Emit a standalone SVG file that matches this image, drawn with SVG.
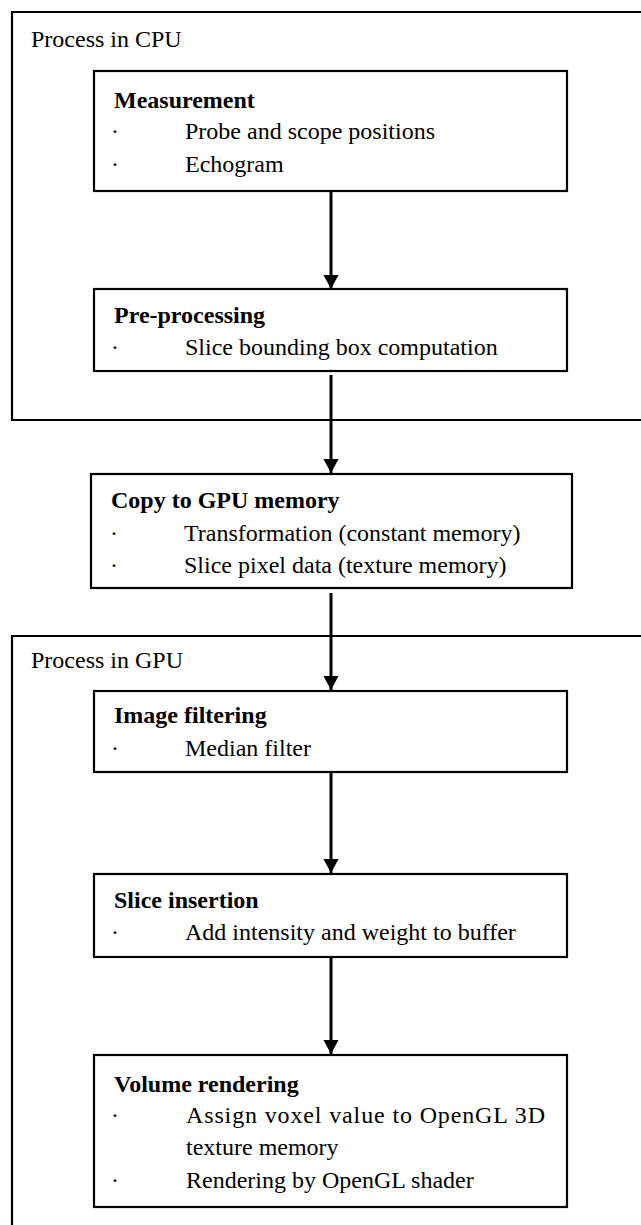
<svg xmlns="http://www.w3.org/2000/svg" width="641" height="1225" viewBox="0 0 641 1225">
<style>
  .frame { fill: none; stroke: #000; stroke-width: 2.2; }
  .box { fill: #fff; stroke: #000; stroke-width: 2.2; }
  .t { font-family: "Liberation Serif", "Times New Roman", serif; font-size: 24px; fill: #000; }
  .h { font-family: "Liberation Serif", "Times New Roman", serif; font-size: 24px; font-weight: bold; fill: #000; }
  .conn { stroke: #000; stroke-width: 3; fill: none; marker-end: url(#arrow); }
</style>
<defs>
  <marker id="arrow" markerUnits="userSpaceOnUse" markerWidth="16" markerHeight="16" viewBox="0 0 16 16" refX="14" refY="8" orient="auto">
    <path d="M0,0.5 L14,8 L0,15.5 Z" fill="#000"/>
  </marker>
</defs>
<rect width="641" height="1225" fill="#fff"/>

<g id="cpu-group">
  <path class="frame" d="M660,12 H12 V420 H660"/>
  <text class="t" x="31" y="47">Process in CPU</text>
</g>

<g id="gpu-group">
  <path class="frame" d="M660,636 H12 V1240"/>
  <text class="t" x="31" y="668">Process in GPU</text>
</g>

<g id="connectors">
  <line class="conn" x1="331" y1="191" x2="331" y2="289"/>
  <line class="conn" x1="331" y1="375" x2="331" y2="473"/>
  <line class="conn" x1="331" y1="593" x2="331" y2="690"/>
  <line class="conn" x1="331" y1="772" x2="331" y2="873"/>
  <line class="conn" x1="331" y1="957" x2="331" y2="1054"/>
</g>

<g id="measurement">
  <rect class="box" x="94" y="71" width="473" height="120"/>
  <text class="h" x="114" y="108">Measurement</text>
  <text class="t" x="111" y="139">·</text>
  <text class="t" x="185" y="139">Probe and scope positions</text>
  <text class="t" x="111" y="172">·</text>
  <text class="t" x="185" y="172">Echogram</text>
</g>

<g id="preprocessing">
  <rect class="box" x="94" y="289" width="473" height="82"/>
  <text class="h" x="114" y="323">Pre-processing</text>
  <text class="t" x="111" y="355">·</text>
  <text class="t" x="185" y="355">Slice bounding box computation</text>
</g>

<g id="copy-to-gpu">
  <rect class="box" x="91" y="474" width="481" height="114"/>
  <text class="h" x="111" y="508">Copy to GPU memory</text>
  <text class="t" x="110" y="541">·</text>
  <text class="t" x="184" y="541">Transformation (constant memory)</text>
  <text class="t" x="110" y="573">·</text>
  <text class="t" x="184" y="573">Slice pixel data (texture memory)</text>
</g>

<g id="image-filtering">
  <rect class="box" x="94" y="691" width="473" height="81"/>
  <text class="h" x="114" y="723">Image filtering</text>
  <text class="t" x="111" y="756">·</text>
  <text class="t" x="185" y="756">Median filter</text>
</g>

<g id="slice-insertion">
  <rect class="box" x="94" y="874" width="473" height="83"/>
  <text class="h" x="114" y="908">Slice insertion</text>
  <text class="t" x="111" y="940">·</text>
  <text class="t" x="185" y="940">Add intensity and weight to buffer</text>
</g>

<g id="volume-rendering">
  <rect class="box" x="94" y="1055" width="473" height="152"/>
  <text class="h" x="114" y="1092">Volume rendering</text>
  <text class="t" x="111" y="1123">·</text>
  <text class="t" x="186" y="1123" textLength="359" lengthAdjust="spacing">Assign voxel value to OpenGL 3D</text>
  <text class="t" x="186" y="1155">texture memory</text>
  <text class="t" x="111" y="1188">·</text>
  <text class="t" x="186" y="1188">Rendering by OpenGL shader</text>
</g>
</svg>
